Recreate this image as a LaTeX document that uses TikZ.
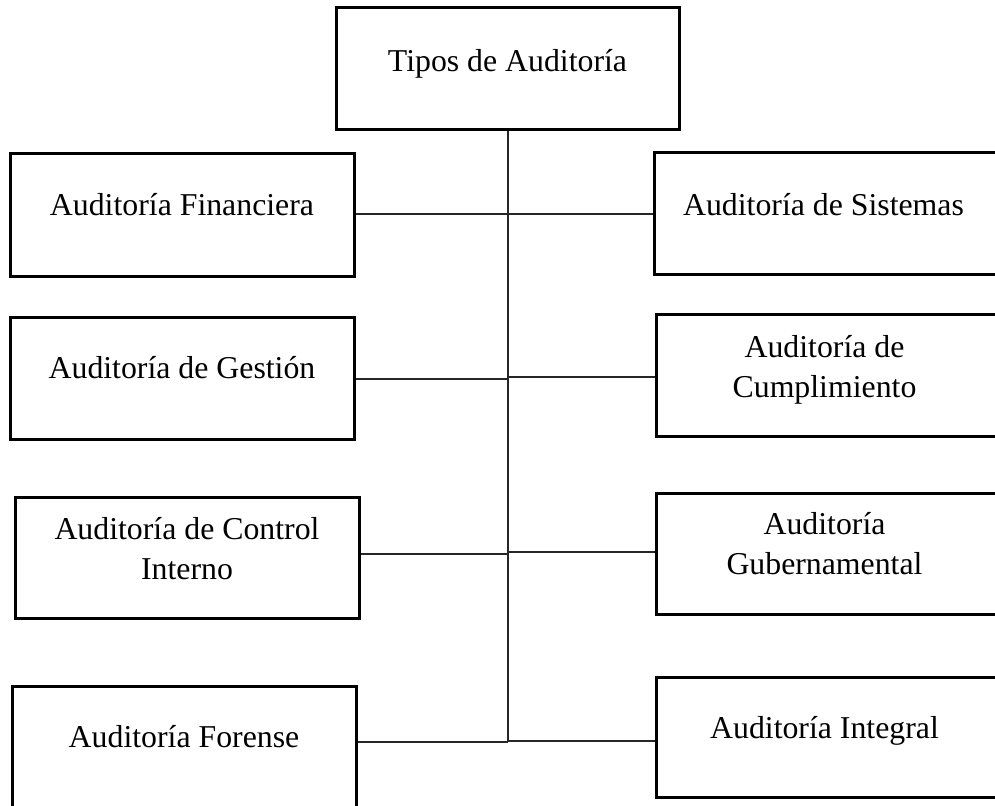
\documentclass[tikz,border=0pt]{standalone}
\usepackage{fontspec}
\setmainfont{Liberation Serif}
\newcommand\twolines[2]{\begin{tabular}[t]{@{}c@{}}#1\\#2\end{tabular}}
\begin{document}
\begin{tikzpicture}[x=0.5pt,y=-0.5pt,
  box/.style={draw=black,line width=1.5pt,rectangle,inner sep=0pt},
  lbl/.style={anchor=base,inner sep=0pt,font=\fontsize{15.9}{20}\selectfont},
  link/.style={draw=black!85,line width=1pt}]
\useasboundingbox (0,0) rectangle (995,805);

% root box
\node[box,minimum width=171.5pt,minimum height=61pt] (root) at (507.5,68) {};
\node[lbl] (root-t) at (507.5,71) {Tipos de Auditoría};

% left column (the last box runs past the lower page edge)
\node[box,minimum width=172pt,minimum height=61.5pt] (fin) at (182,214.5) {};
\node[lbl] (fin-t) at (182,215) {Auditoría Financiera};
\node[box,minimum width=172pt,minimum height=61pt] (ges) at (182,378) {};
\node[lbl] (ges-t) at (182,378) {Auditoría de Gestión};
\node[box,minimum width=172pt,minimum height=60.5pt] (ctl) at (187,557.5) {};
\node[lbl] (ctl-t) at (187,539) {\twolines{Auditoría de Control}{Interno}};
\node[box,minimum width=172pt,minimum height=62pt] (for) at (184,748) {};
\node[lbl] (for-t) at (184,747) {Auditoría Forense};

% right column (boxes run past the right page edge)
\node[box,minimum width=174pt,minimum height=61pt] (sis) at (828,213) {};
\node[lbl] (sis-t) at (823.5,215) {Auditoría de Sistemas};
\node[box,minimum width=173pt,minimum height=61pt] (cum) at (829,375) {};
\node[lbl] (cum-t) at (824.5,357) {\twolines{Auditoría de}{Cumplimiento}};
\node[box,minimum width=173pt,minimum height=60.5pt] (gub) at (829,553.5) {};
\node[lbl] (gub-t) at (824.5,534) {\twolines{Auditoría}{Gubernamental}};
\node[box,minimum width=173pt,minimum height=60pt] (int) at (829,737) {};
\node[lbl] (int-t) at (824.5,738) {Auditoría Integral};

% spine and branch points
\coordinate (sp-end) at (507.5,742);
\coordinate (sl1) at (507.5,214);
\coordinate (sr1) at (507.5,214);
\coordinate (sl2) at (507.5,379);
\coordinate (sr2) at (507.5,377);
\coordinate (sl3) at (507.5,554);
\coordinate (sr3) at (507.5,552);
\coordinate (sl4) at (507.5,742);
\coordinate (sr4) at (507.5,741);

\draw[link] (root.south) -- (sp-end);
\draw[link] (sl1) -- (sl1 -| fin.east);
\draw[link] (sr1) -- (sr1 -| sis.west);
\draw[link] (sl2) -- (sl2 -| ges.east);
\draw[link] (sr2) -- (sr2 -| cum.west);
\draw[link] (sl3) -- (sl3 -| ctl.east);
\draw[link] (sr3) -- (sr3 -| gub.west);
\draw[link] (sl4) -- (sl4 -| for.east);
\draw[link] (sr4) -- (sr4 -| int.west);
\end{tikzpicture}
\end{document}
